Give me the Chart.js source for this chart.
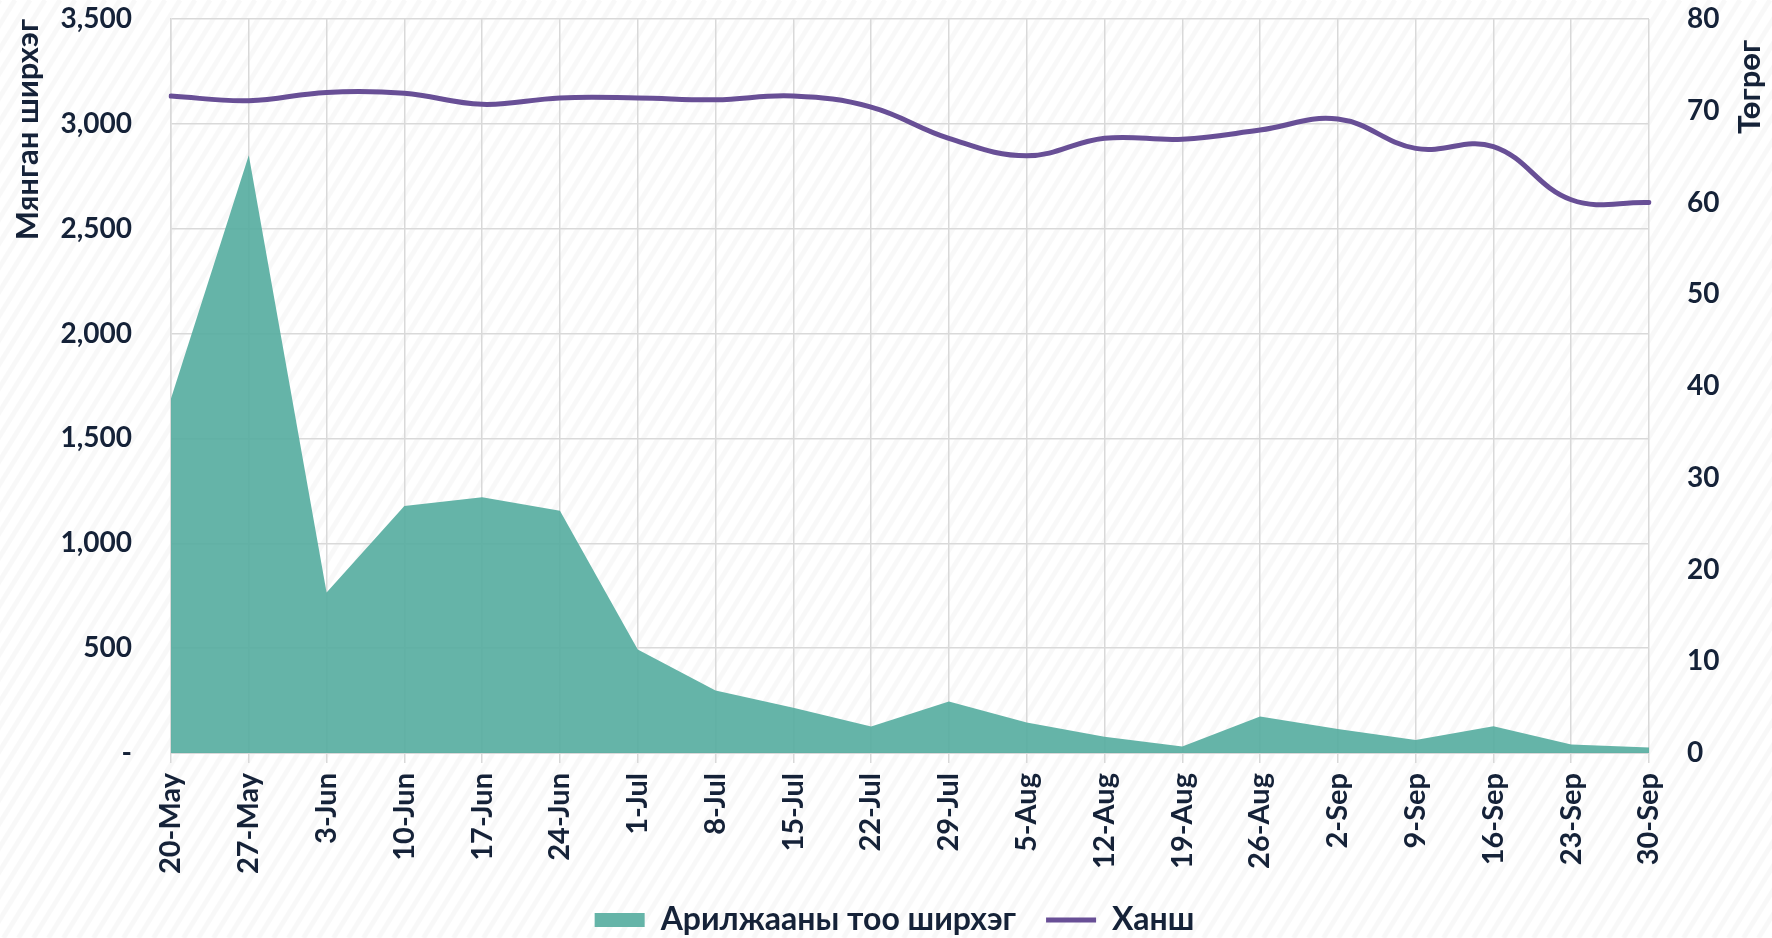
<!DOCTYPE html>
<html>
<head>
<meta charset="utf-8">
<script src="https://cdn.jsdelivr.net/npm/chart.js@4.4.1/dist/chart.umd.min.js"></script>
<style>
  html, body { margin: 0; padding: 0; background: #ffffff; }
  #wrap { width: 1772px; height: 938px; }
</style>
</head>
<body>
<div id="wrap"><canvas id="c" width="1772" height="938"></canvas></div>
<script>
// ---- data ----
const categories = ['20-May','27-May','3-Jun','10-Jun','17-Jun','24-Jun','1-Jul','8-Jul','15-Jul','22-Jul',
                    '29-Jul','5-Aug','12-Aug','19-Aug','26-Aug','2-Sep','9-Sep','16-Sep','23-Sep','30-Sep'];
const tradeCount = [1690, 2850, 765, 1178, 1219, 1155, 493, 298, 216, 126,
                    245, 146, 78, 31, 174, 115, 62, 127, 40, 26];
const rate = [71.6, 71.1, 72.0, 71.9, 70.7, 71.4, 71.4, 71.2, 71.6, 70.4,
              67.0, 65.1, 67.0, 66.9, 67.9, 69.1, 65.9, 66.1, 60.3, 60.0];
const seriesNames = ['Арилжааны тоо ширхэг', 'Ханш'];
const leftAxisTitle = 'Мянган ширхэг';
const rightAxisTitle = 'Төгрөг';
const leftTicks = { min: 0, max: 3500, step: 500 };
const rightTicks = { min: 0, max: 80, step: 10 };

// ---- styles ----
const TEXT = '#152238';
const GRID = '#d9d9d9';
const FONT = 'Lato, "Noto Sans", "DejaVu Sans", sans-serif';

const bgPlugin = {
  id: 'bg',
  beforeDraw(chart) {
    const ctx = chart.ctx, W = chart.width, H = chart.height;
    ctx.save();
    ctx.fillStyle = '#ffffff';
    ctx.fillRect(0, 0, W, H);
    ctx.strokeStyle = 'rgba(0,0,0,0.028)';
    ctx.lineWidth = 5;
    const dx = H * 0.62;
    for (let x = -dx; x < W + dx; x += 15) {
      ctx.beginPath();
      ctx.moveTo(x, H);
      ctx.lineTo(x + dx, 0);
      ctx.stroke();
    }
    ctx.restore();
  }
};

const rightTitlePlugin = {
  id: 'rightTitle',
  afterDraw(chart) {
    const ctx = chart.ctx;
    ctx.save();
    ctx.translate(1750, 87);
    ctx.rotate(-Math.PI / 2);
    ctx.font = 'bold 31px ' + FONT;
    ctx.fillStyle = TEXT;
    ctx.textAlign = 'center';
    ctx.textBaseline = 'middle';
    ctx.fillText(rightAxisTitle, 0, 0);
    ctx.restore();
  }
};

new Chart(document.getElementById('c'), {
  type: 'line',
  data: {
    labels: categories,
    datasets: [
      {
        label: seriesNames[0],
        data: tradeCount,
        yAxisID: 'y',
        order: 1,
        fill: 'origin',
        backgroundColor: 'rgba(84,172,158,0.9)',
        borderColor: 'rgba(84,172,158,0.9)',
        borderWidth: 0,
        pointRadius: 0,
        pointStyle: 'rect',
        tension: 0
      },
      {
        label: seriesNames[1],
        data: rate,
        yAxisID: 'y1',
        order: 0,
        fill: false,
        borderColor: '#684f96',
        backgroundColor: '#684f96',
        borderWidth: 5,
        borderCapStyle: 'round',
        pointRadius: 0,
        pointStyle: 'line',
        tension: 0.4
      }
    ]
  },
  options: {
    responsive: false,
    devicePixelRatio: 1,
    animation: false,
    layout: { padding: { top: 19, left: 17, right: 0, bottom: -8 } },
    plugins: {
      tooltip: { enabled: false },
      legend: {
        position: 'bottom',
        labels: {
          usePointStyle: true,
          pointStyleWidth: 50,
          boxHeight: 14,
          padding: 30,
          color: TEXT,
          font: { family: FONT, size: 32, weight: 'bold' },
          sort: (a, b) => a.datasetIndex - b.datasetIndex
        }
      }
    },
    scales: {
      x: {
        type: 'category',
        offset: false,
        grid: { color: GRID, lineWidth: 1.5, drawTicks: true, tickLength: 10, tickColor: GRID },
        border: { color: GRID, width: 2 },
        ticks: {
          autoSkip: false, maxRotation: 90, minRotation: 90, padding: 10,
          color: TEXT, font: { family: FONT, size: 29, weight: 'bold' }
        },
        afterFit(scale) { scale.height = 121; }
      },
      y: {
        position: 'left',
        min: leftTicks.min, max: leftTicks.max,
        grid: { color: GRID, lineWidth: 1.5, drawTicks: true, tickLength: 37, tickColor: 'rgba(0,0,0,0)' },
        border: { color: GRID, width: 1.5 },
        ticks: {
          stepSize: leftTicks.step, padding: 2, color: TEXT,
          font: { family: FONT, size: 28, weight: 'bold' },
          callback: (v) => v === 0 ? '-' : v.toLocaleString('en-US')
        },
        title: {
          display: true, text: leftAxisTitle, align: 'end', color: TEXT,
          padding: { top: -8, bottom: 0 },
          font: { family: FONT, size: 31, weight: 'bold' }
        },
        afterFit(scale) { scale.width = 154; }
      },
      y1: {
        position: 'right',
        min: rightTicks.min, max: rightTicks.max,
        grid: { display: true, drawOnChartArea: false, drawTicks: true, tickLength: 36, color: 'rgba(0,0,0,0)', tickColor: 'rgba(0,0,0,0)' },
        border: { display: false },
        ticks: {
          stepSize: rightTicks.step, padding: 2, color: TEXT,
          font: { family: FONT, size: 28, weight: 'bold' }
        },
        afterFit(scale) { scale.width = 123; }
      }
    }
  },
  plugins: [bgPlugin, rightTitlePlugin]
});
</script>
</body>
</html>
